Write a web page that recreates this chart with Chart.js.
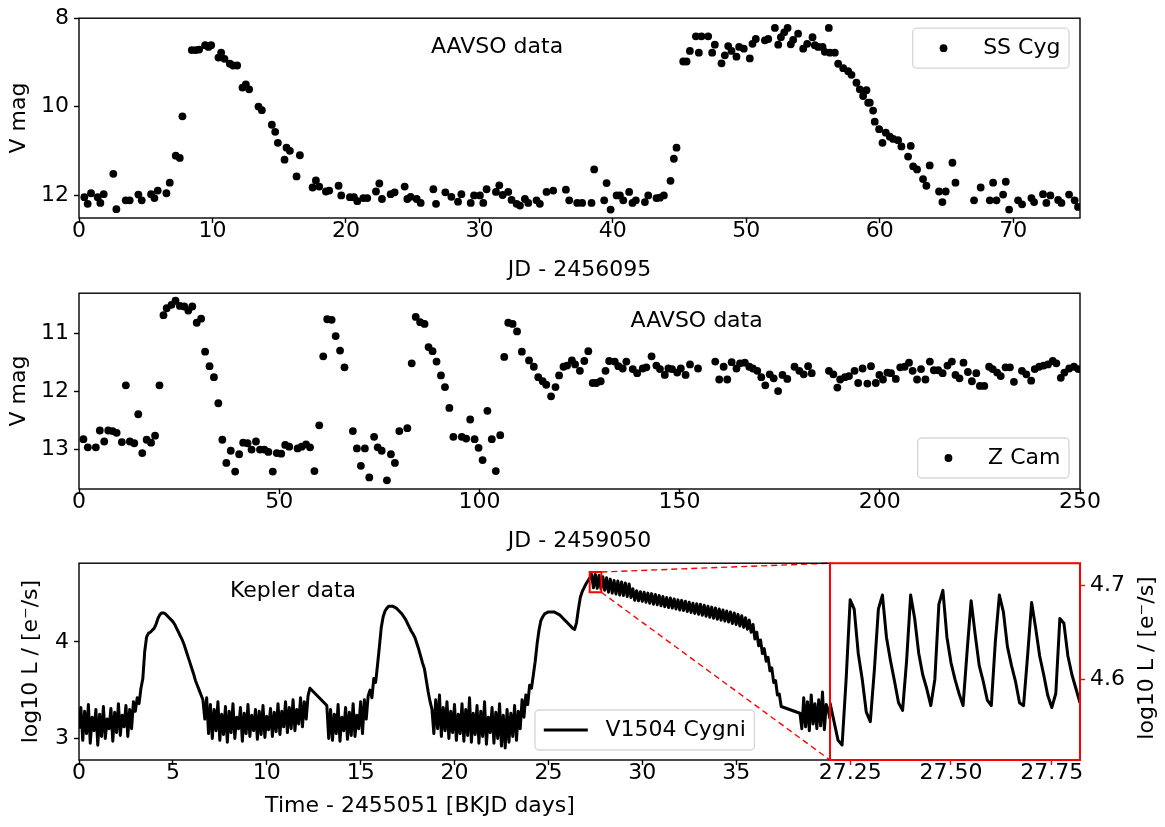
<!DOCTYPE html>
<html>
<head>
<meta charset="utf-8">
<script src="https://cdn.jsdelivr.net/npm/chart.js@4.4.1/dist/chart.umd.min.js"></script>
<style>
  body { margin: 0; background: #fff; }
  #wrap { position: relative; width: 1165px; height: 827px; }
  canvas { position: absolute; }
</style>
</head>
<body>
<div id="wrap">
  <canvas id="ssCyg" width="1165" height="285" style="left:0px;top:0px"></canvas>
  <canvas id="zCam" width="1165" height="280" style="left:0px;top:275px"></canvas>
  <canvas id="kepler" width="832" height="282" style="left:0px;top:545px"></canvas>
  <canvas id="keplerZoom" width="365" height="282" style="left:800px;top:545px"></canvas>
</div>
<script>
// ---- SS Cyg (AAVSO), JD - 2456095 ----
const ssCygDay = [
  0.4, 0.65, 0.9, 1.4, 1.6, 1.85, 2.57, 2.8, 3.5, 3.8,
  4.45, 4.7, 5.4, 5.65, 5.9, 6.55, 6.8, 7.25, 7.55, 7.75,
  8.45, 8.75, 9.0, 9.45, 9.7, 9.9, 10.45, 10.65, 10.9, 11.3,
  11.55, 11.85, 12.25, 12.5, 12.75, 13.45, 13.7, 14.45, 14.7, 14.9,
  15.4, 15.55, 15.8, 16.3, 16.55, 17.5, 17.75, 18.0, 18.5, 18.75,
  19.45, 19.65, 20.3, 20.6, 20.85, 21.3, 21.6, 22.25, 22.5, 22.7,
  23.35, 23.65, 24.4, 24.6, 24.85, 25.3, 25.6, 26.55, 26.75, 27.45,
  27.9, 28.4, 28.65, 29.35, 29.6, 30.04, 30.29, 30.54, 31.24, 31.49,
  31.74, 32.16, 32.41, 32.79, 33.04, 33.41, 33.66, 34.28, 34.53, 35.03,
  35.53, 36.48, 36.73, 37.33, 37.7, 38.4, 38.6, 39.35, 39.53, 39.83,
  40.28, 40.53, 40.78, 41.22, 41.47, 41.72, 42.4, 42.65, 43.27, 43.52,
  43.82, 44.32, 44.57, 44.77, 45.27, 45.52, 45.77, 46.22, 46.44, 46.64,
  47.14, 47.44, 47.64, 48.14, 48.39, 48.64, 48.89, 49.26, 49.46, 49.81,
  50.26, 50.46, 50.71, 51.39, 51.64, 52.14, 52.39, 52.59, 52.84, 53.09,
  53.33, 53.51, 53.88, 54.26, 54.56, 54.96, 55.13, 55.38, 55.71, 55.88,
  56.18, 56.26, 56.63, 56.88, 57.26, 57.63, 57.88, 58.25, 58.5, 58.75,
  59.0, 59.13, 59.25, 59.5, 59.62, 59.95, 60.2, 60.45, 60.75, 61.0,
  61.37, 61.62, 62.12, 62.32, 62.5, 62.79, 63.24, 63.49, 63.74, 64.44,
  64.69, 64.94, 65.44, 65.67, 67.06, 67.56, 68.24, 68.49, 68.74, 69.24,
  69.44, 69.69, 70.36, 70.66, 71.36, 71.56, 72.23, 72.48, 72.78, 73.36,
  73.61, 74.18, 74.6, 74.85
];
const ssCygMag = [
  12.05, 12.2, 11.96, 12.05, 12.18, 11.98, 11.52, 12.32, 12.12, 12.12,
  11.99, 12.12, 11.98, 12.07, 11.9, 11.96, 11.72, 11.11, 11.16, 10.22,
  8.72, 8.72, 8.71, 8.61, 8.65, 8.61, 8.89, 8.78, 8.92, 9.03,
  9.07, 9.07, 9.57, 9.5, 9.61, 10.0, 10.08, 10.41, 10.57, 10.82,
  11.2, 10.93, 11.0, 11.58, 11.1, 11.83, 11.67, 11.81, 11.92, 11.9,
  11.79, 12.01, 12.05, 12.05, 12.14, 12.07, 12.07, 11.92, 11.74, 12.09,
  11.98, 11.94, 11.81, 12.09, 12.04, 12.09, 12.18, 11.87, 12.2, 11.94,
  12.04, 12.15, 11.98, 12.18, 12.01, 12.01, 12.18, 11.87, 11.93, 11.78,
  12.0, 11.93, 12.11, 12.2, 12.24, 12.09, 12.18, 12.12, 12.2, 11.93,
  11.9, 11.88, 12.12, 12.18, 12.18, 12.18, 11.42, 12.12, 11.73, 12.33,
  12.01, 12.01, 12.12, 11.93, 12.18, 12.12, 12.16, 12.01, 12.07, 12.06,
  12.01, 11.68, 11.18, 10.93, 8.98, 8.98, 8.74, 8.41, 8.78, 8.41,
  8.41, 8.78, 8.6, 9.02, 8.84, 8.63, 8.74, 8.87, 8.65, 8.69,
  8.91, 8.58, 8.47, 8.5, 8.47, 8.22, 8.6, 8.43, 8.32, 8.22,
  8.59, 8.49, 8.35, 8.69, 8.58, 8.43, 8.61, 8.65, 8.65, 8.76,
  8.22, 8.78, 8.78, 9.03, 9.13, 9.2, 9.28, 9.46, 9.61, 9.76,
  9.63, 9.91, 9.91, 10.09, 10.34, 10.51, 10.82, 10.59, 10.68, 10.73,
  10.76, 10.9, 11.13, 10.89, 11.35, 11.42, 11.64, 11.79, 11.33, 11.92,
  12.16, 11.92, 11.27, 11.72, 12.12, 11.83, 12.12, 11.72, 12.12, 11.99,
  11.7, 12.33, 12.12, 12.21, 12.07, 12.16, 11.98, 12.18, 12.01, 12.11,
  12.18, 11.99, 12.12, 12.27
];
const ssCygTicksX = [0, 10, 20, 30, 40, 50, 60, 70];
const ssCygTicksY = [8, 10, 12];

// ---- Z Cam (AAVSO), JD - 2459050 ----
const zCamDay = [
  1.1, 2.2, 4.2, 5.2, 6.3, 7.3, 8.4, 9.4, 10.7, 11.7,
  12.7, 13.8, 14.8, 15.8, 16.9, 18.0, 19.0, 20.1, 21.1, 21.9,
  23.1, 24.1, 25.2, 26.3, 27.3, 28.3, 29.4, 30.5, 31.5, 32.6,
  33.7, 34.8, 35.8, 36.8, 37.9, 39.0, 40.0, 41.0, 42.1, 43.1,
  44.2, 45.2, 46.3, 47.3, 48.4, 49.4, 50.5, 51.5, 52.5, 54.6,
  55.6, 56.7, 57.7, 58.8, 60.0, 61.0, 62.0, 63.1, 64.1, 65.2,
  66.3, 68.4, 69.4, 70.4, 71.4, 72.5, 73.7, 74.6, 75.6, 76.9,
  77.9, 78.9, 80.0, 82.0, 83.1, 84.1, 85.2, 86.3, 87.3, 88.3,
  89.3, 90.4, 91.4, 92.5, 93.5, 95.6, 96.7, 97.7, 98.8, 99.8,
  100.8, 102.0, 103.1, 104.1, 105.2, 106.2, 107.2, 108.3, 109.4, 110.6,
  112.4, 113.6, 114.7, 115.8, 116.7, 117.9, 119.0, 119.9, 121.0, 121.9,
  123.1, 123.9, 125.1, 126.2, 127.2, 128.3, 129.2, 130.3, 131.5, 132.4,
  133.8, 134.7, 135.8, 136.7, 138.3, 139.4, 140.8, 141.7, 143.0, 144.2,
  145.1, 146.3, 147.2, 148.1, 149.4, 150.3, 151.5, 152.6, 154.6, 158.9,
  159.9, 161.0, 161.9, 163.0, 164.2, 165.1, 166.3, 167.4, 168.3, 169.4,
  170.4, 171.4, 172.5, 173.5, 174.6, 175.7, 176.9, 178.7, 179.9, 181.0,
  182.1, 183.0, 187.3, 188.4, 189.4, 190.1, 191.3, 192.3, 193.7, 194.6,
  195.7, 196.9, 197.8, 199.0, 199.9, 200.8, 201.9, 202.8, 204.0, 205.1,
  206.2, 207.3, 208.2, 209.3, 210.3, 211.4, 212.5, 213.5, 214.6, 215.7,
  216.9, 218.0, 218.9, 219.9, 220.9, 222.0, 223.0, 224.1, 225.0, 226.1,
  227.3, 228.2, 229.3, 230.2, 231.4, 232.5, 233.5, 235.5, 236.6, 237.8,
  238.7, 239.8, 240.9, 242.0, 243.2, 244.1, 245.2, 246.1, 247.3, 248.5,
  249.6
];
const zCamMag = [
  12.83, 12.97, 12.97, 12.68, 12.87, 12.68, 12.69, 12.72, 12.88, 11.9,
  12.87, 12.9, 12.4, 13.07, 12.84, 12.89, 12.77, 11.9, 10.69, 10.57,
  10.51, 10.44, 10.53, 10.54, 10.61, 10.54, 10.82, 10.75, 11.32, 11.57,
  11.76, 12.21, 12.84, 13.24, 13.03, 13.39, 13.09, 12.89, 12.9, 13.01,
  12.87, 13.01, 13.01, 13.05, 13.39, 13.07, 13.08, 12.93, 12.96, 12.99,
  12.96, 12.92, 12.97, 13.38, 12.59, 11.4, 10.76, 10.77, 11.05, 11.3,
  11.59, 12.69, 12.99, 13.29, 12.99, 13.49, 12.79, 12.97, 13.03, 13.54,
  13.09, 13.24, 12.69, 12.64, 11.52, 10.72, 10.81, 10.84, 11.24, 11.31,
  11.49, 11.73, 11.93, 12.29, 12.79, 12.79, 12.82, 12.49, 12.83, 12.98,
  13.19, 12.34, 12.83, 13.38, 12.76, 11.41, 10.82, 10.84, 10.97, 11.32,
  11.47, 11.58, 11.76, 11.83, 11.89, 12.09, 11.93, 11.73, 11.58, 11.56,
  11.47, 11.54, 11.65, 11.48, 11.31, 11.86, 11.86, 11.83, 11.65, 11.48,
  11.49, 11.57, 11.61, 11.49, 11.62, 11.69, 11.61, 11.59, 11.4, 11.56,
  11.62, 11.72, 11.61, 11.62, 11.68, 11.61, 11.72, 11.54, 11.61, 11.49,
  11.8, 11.58, 11.8, 11.5, 11.61, 11.52, 11.51, 11.58, 11.61, 11.65,
  11.76, 11.9, 11.71, 11.78, 12.0, 11.72, 11.79, 11.58, 11.65, 11.71,
  11.57, 11.69, 11.65, 11.71, 11.94, 11.8, 11.76, 11.74, 11.65, 11.86,
  11.61, 11.87, 11.57, 11.86, 11.72, 11.8, 11.68, 11.69, 11.79, 11.59,
  11.58, 11.51, 11.65, 11.8, 11.62, 11.8, 11.49, 11.64, 11.64, 11.69,
  11.56, 11.49, 11.72, 11.78, 11.51, 11.67, 11.83, 11.69, 11.91, 11.91,
  11.58, 11.62, 11.68, 11.74, 11.59, 11.59, 11.84, 11.65, 11.71, 11.82,
  11.62, 11.58, 11.56, 11.54, 11.48, 11.52, 11.77, 11.68, 11.61, 11.58,
  11.62
];
const zCamTicksX = [0, 50, 100, 150, 200, 250];
const zCamTicksY = [11, 12, 13];

// ---- V1504 Cyg (Kepler), log10 flux, one value every 0.1 d ----
const KEP_STEP = 0.1;
const kepQuiet1 = [ // from 0.0 d
  3.10, 3.32, 2.98, 3.28, 3.05, 3.35, 2.95, 3.22, 3.08, 3.30,
  2.93, 3.25, 3.02, 3.33, 3.00, 3.20, 3.10, 3.31, 2.97, 3.27,
  3.06, 3.36, 3.03, 3.24, 3.12, 3.34, 3.02, 3.30, 3.10, 3.38,
  3.28, 3.42, 3.36, 3.52, 3.62
];
const kepOutburst1 = [ // from 3.5 d
  3.90, 4.05, 4.09, 4.10, 4.12, 4.14, 4.18, 4.24, 4.28, 4.30,
  4.30, 4.29, 4.27, 4.25, 4.23, 4.21, 4.18, 4.14, 4.10, 4.06,
  4.02, 3.97, 3.91, 3.85, 3.79, 3.73, 3.67, 3.60, 3.55, 3.50,
  3.45, 3.40
];
const kepQuiet2 = [ // from 6.7 d
  3.20, 3.42, 3.05, 3.35, 3.00, 3.30, 3.08, 3.38, 2.98, 3.25,
  3.04, 3.33, 2.96, 3.28, 3.06, 3.36, 3.00, 3.22, 3.10, 3.32,
  2.97, 3.26, 3.05, 3.35, 3.02, 3.24, 3.08, 3.30, 2.99, 3.28,
  3.04, 3.34, 3.01, 3.23, 3.09, 3.31, 3.02, 3.27, 3.07, 3.36,
  3.04, 3.28, 3.12, 3.38, 3.06, 3.32, 3.10, 3.40, 3.08, 3.30,
  3.15, 3.42, 3.12, 3.38, 3.20, 3.44, 3.52
];
const kepQuiet3 = [ // from 13.2 d
  3.34, 3.00, 3.30, 2.98, 3.25, 3.05, 3.35, 2.97, 3.22, 3.08,
  3.32, 2.99, 3.27, 3.03, 3.36, 3.02, 3.24, 3.10, 3.38, 3.05,
  3.40, 3.20, 3.44
];
const kepOutburst2 = [ // from 15.5 d
  3.50, 3.42, 3.62, 3.58, 3.76, 3.95, 4.15, 4.26, 4.32, 4.35,
  4.37, 4.37, 4.37, 4.36, 4.35, 4.33, 4.31, 4.29, 4.26, 4.23,
  4.19, 4.15, 4.11, 4.08, 4.04, 3.98, 3.92, 3.85, 3.78, 3.72,
  3.60, 3.48, 3.38, 3.30
];
const kepQuiet4 = [ // from 18.9 d
  3.05, 3.40, 3.10, 3.45, 3.02, 3.32, 3.08, 3.38, 3.00, 3.28,
  3.06, 3.35, 2.98, 3.25, 3.05, 3.36, 2.97, 3.30, 3.03, 3.42,
  2.96, 3.26, 3.04, 3.34, 2.95, 3.28, 3.02, 3.38, 2.94, 3.22,
  3.06, 3.32, 2.95, 3.27, 3.00, 3.36, 2.92, 3.24, 2.90, 3.30,
  2.96, 3.26, 3.02, 3.34, 2.98, 3.28, 3.10
];
const kepRise3 = [ // from 23.6 d
  3.40, 3.22, 3.45, 3.35, 3.55, 3.52, 3.66, 3.80, 3.98, 4.12,
  4.22, 4.26, 4.29, 4.30, 4.31, 4.31, 4.31, 4.31, 4.30, 4.29,
  4.28, 4.26, 4.24, 4.22, 4.20, 4.18, 4.16, 4.14, 4.13, 4.20,
  4.34, 4.46, 4.52, 4.56, 4.60, 4.63, 4.66
];
const kepSuper = [ // from 27.3 d, superhump band (alternating highs and lows)
  4.70, 4.56, 4.70, 4.555, 4.69, 4.55, 4.675, 4.535, 4.665, 4.515,
  4.65, 4.505, 4.635, 4.495, 4.63, 4.485, 4.62, 4.48, 4.61, 4.47,
  4.60, 4.46,
  4.55, 4.43, 4.53, 4.425, 4.52, 4.42, 4.515, 4.41, 4.505, 4.40,
  4.50, 4.39, 4.49, 4.385, 4.48, 4.375, 4.47, 4.365, 4.46, 4.355,
  4.455, 4.35, 4.445, 4.34, 4.435, 4.33, 4.43, 4.325, 4.42, 4.315,
  4.41, 4.305, 4.40, 4.295, 4.395, 4.285,
  4.39, 4.275, 4.38, 4.265, 4.37, 4.255, 4.36, 4.245, 4.35, 4.235,
  4.34, 4.225, 4.33, 4.215, 4.32, 4.205, 4.31, 4.19, 4.30, 4.18,
  4.285, 4.165, 4.27, 4.15, 4.25, 4.13, 4.225, 4.10,
  4.18, 4.03, 4.10, 3.96, 4.02, 3.88, 3.93, 3.80, 3.84, 3.70,
  3.73, 3.58, 3.60, 3.45, 3.46, 3.33
];
const kepQuiet5 = [ // from 38.4 d
  3.26, 3.10, 3.42, 3.12, 3.38, 3.08, 3.45, 3.15, 3.36, 3.10,
  3.40, 3.13, 3.48, 3.09, 3.35, 3.30, 3.20
];
const kepSegments = [
  [0.0, kepQuiet1], [3.5, kepOutburst1], [6.7, kepQuiet2], [13.2, kepQuiet3],
  [15.5, kepOutburst2], [18.9, kepQuiet4], [23.6, kepRise3], [27.3, kepSuper], [38.4, kepQuiet5]
];
const kepTicksX = [0, 5, 10, 15, 20, 25, 30, 35];
const kepTicksY = [3, 4];

// ---- zoom on the superoutburst, one value every 0.01 d from 27.20 d ----
const ZOOM_START = 27.2, ZOOM_STEP = 0.01;
const zoomFlux = [
  4.575, 4.555, 4.535, 4.53, 4.60, 4.685, 4.675, 4.628, 4.60, 4.565,
  4.555, 4.61, 4.675, 4.69, 4.645, 4.62, 4.598, 4.575, 4.567, 4.62,
  4.69, 4.665, 4.628, 4.605, 4.59, 4.572, 4.60, 4.68, 4.695, 4.645,
  4.618, 4.60, 4.585, 4.572, 4.63, 4.684, 4.648, 4.615, 4.598, 4.578,
  4.572, 4.64, 4.69, 4.672, 4.635, 4.615, 4.598, 4.575, 4.572, 4.625,
  4.682, 4.655, 4.625, 4.605, 4.583, 4.57, 4.585, 4.665, 4.66, 4.625,
  4.605, 4.59, 4.575
];
const zoomDays = [27.2, 27.82];
const zoomFluxRange = [4.514, 4.724];
const zoomTicksX = [27.25, 27.5, 27.75];
const zoomTicksY = [4.6, 4.7];

const FONT = "'DejaVu Sans', sans-serif";
Chart.defaults.font.family = FONT;
Chart.defaults.font.size = 22;
Chart.defaults.color = '#000';

function xAxis(o) {
  return {
    type: 'linear', position: 'bottom', min: o.min, max: o.max,
    afterBuildTicks: s => { s.ticks = o.ticks.map(v => ({ value: v })); },
    afterFit: s => { s.height = o.height; },
    ticks: { autoSkip: false, maxRotation: 0, padding: -3, color: '#000',
             font: { size: 22, lineHeight: 1 }, callback: o.fmt || (v => String(v)) },
    grid: { drawOnChartArea: false, tickLength: 5, tickWidth: 1.4, tickColor: o.tickColor || '#000' },
    border: { display: false },
    title: o.title ? { display: true, text: o.title, color: '#000', font: { size: 22 },
                       padding: { top: 0, bottom: o.titlePad } } : { display: false }
  };
}
function yAxis(o) {
  return {
    type: 'linear', position: o.position || 'left', reverse: !!o.reverse, min: o.min, max: o.max,
    afterBuildTicks: s => { s.ticks = o.ticks.map(v => ({ value: v })); },
    afterFit: s => { s.width = o.width; },
    ticks: { autoSkip: false, padding: 5, color: '#000', font: { size: 22 }, callback: o.fmt || (v => String(v)) },
    grid: { drawOnChartArea: false, tickLength: 5, tickWidth: 1.4, tickColor: o.tickColor || '#000' },
    border: { display: false },
    title: o.title ? { display: true, text: o.title, color: '#000', font: { size: 22 },
                       padding: { top: o.titlePad, bottom: 0 } } : { display: false }
  };
}

// box around the plot area
function frame(color, width) {
  return {
    id: 'frame',
    afterDraw(chart) {
      const { ctx, chartArea: a } = chart;
      ctx.save();
      ctx.strokeStyle = color;
      ctx.lineWidth = width;
      ctx.strokeRect(a.left, a.top, a.right - a.left, a.bottom - a.top);
      ctx.restore();
    }
  };
}

// free text: fx/fy are fractions of the plot area, x/y canvas pixels
function notes(items) {
  return {
    id: 'notes',
    afterDraw(chart) {
      const { ctx, chartArea: a } = chart;
      ctx.save();
      ctx.font = '22px ' + FONT;
      ctx.fillStyle = '#000';
      ctx.textAlign = 'center';
      ctx.textBaseline = 'middle';
      items.forEach(it => {
        const x = it.fx != null ? a.left + it.fx * (a.right - a.left) : it.x;
        const y = it.fy != null ? a.top + it.fy * (a.bottom - a.top) : it.y;
        ctx.save();
        ctx.translate(x, y);
        if (it.rot) ctx.rotate(it.rot);
        ctx.fillText(it.text, 0, 0);
        ctx.restore();
      });
      ctx.restore();
    }
  };
}

// matplotlib-like legend box
function boxLegend(place) {
  return {
    id: 'boxLegend',
    afterDraw(chart) {
      const ds = chart.data.datasets[0];
      const { ctx, chartArea: a } = chart;
      ctx.save();
      ctx.font = '22px ' + FONT;
      const tw = ctx.measureText(ds.label).width;
      const w = 79 + tw, h = 40;
      const x0 = place.right != null ? a.right - place.right - w : a.left + place.left;
      const y0 = place.top != null ? a.top + place.top : a.bottom - place.bottom - h;
      ctx.beginPath();
      ctx.roundRect(x0, y0, w, h, 4);
      ctx.fillStyle = 'rgba(255,255,255,0.8)';
      ctx.fill();
      ctx.strokeStyle = '#d6d6d6';
      ctx.lineWidth = 1.3;
      ctx.stroke();
      const cy = y0 + h / 2, hx = x0 + 8.8;
      if (ds.showLine === false) {
        ctx.beginPath();
        ctx.arc(hx + 22, cy, ds.pointRadius, 0, Math.PI * 2);
        ctx.fillStyle = ds.backgroundColor;
        ctx.fill();
      } else {
        ctx.beginPath();
        ctx.moveTo(hx, cy);
        ctx.lineTo(hx + 44, cy);
        ctx.strokeStyle = ds.borderColor;
        ctx.lineWidth = ds.borderWidth;
        ctx.stroke();
      }
      ctx.fillStyle = '#000';
      ctx.textBaseline = 'middle';
      ctx.fillText(ds.label, hx + 44 + 17.6, cy);
      ctx.restore();
    }
  };
}

// red rectangle on the zoomed interval + dashed connectors to the inset
const zoomMark = {
  id: 'zoomMark',
  afterDatasetsDraw(chart) {
    const { ctx, chartArea: a, scales: { x, y } } = chart;
    const x0 = x.getPixelForValue(zoomDays[0]), x1 = x.getPixelForValue(zoomDays[1]);
    const y0 = y.getPixelForValue(zoomFluxRange[1]), y1 = y.getPixelForValue(zoomFluxRange[0]);
    ctx.save();
    ctx.strokeStyle = '#ff0000';
    ctx.lineWidth = 2;
    ctx.strokeRect(x0, y0, x1 - x0, y1 - y0);
    ctx.lineWidth = 1.4;
    ctx.setLineDash([6, 4]);
    ctx.beginPath();
    ctx.moveTo(x1, y0); ctx.lineTo(a.right, a.top);
    ctx.moveTo(x1, y1); ctx.lineTo(a.right, a.bottom);
    ctx.stroke();
    ctx.restore();
  }
};

const base = {
  responsive: false, maintainAspectRatio: false, animation: false, devicePixelRatio: 1, events: []
};
const hidden = { legend: { display: false }, tooltip: { enabled: false } };

function scatterSet(label, days, mags) {
  return {
    label: label,
    data: days.map((d, i) => ({ x: d, y: mags[i] })),
    showLine: false, pointRadius: 3.9, pointBorderWidth: 0,
    backgroundColor: '#000', borderColor: '#000'
  };
}

new Chart(document.getElementById('ssCyg'), {
  type: 'scatter',
  data: { datasets: [scatterSet('SS Cyg', ssCygDay, ssCygMag)] },
  options: Object.assign({}, base, {
    layout: { padding: { top: 15, right: 85, bottom: 0, left: 0 } },
    plugins: hidden,
    scales: {
      x: xAxis({ min: 0, max: 75, ticks: ssCygTicksX, height: 67, title: 'JD - 2456095', titlePad: 2 }),
      y: yAxis({ min: 8, max: 12.52, reverse: true, ticks: ssCygTicksY, width: 79, title: 'V mag', titlePad: 6.5 })
    }
  }),
  plugins: [frame('#000', 1.4), notes([{ text: 'AAVSO data', fx: 0.4176, fy: 0.148 }]),
            boxLegend({ right: 11, top: 10 })]
});

new Chart(document.getElementById('zCam'), {
  type: 'scatter',
  data: { datasets: [scatterSet('Z Cam', zCamDay, zCamMag)] },
  options: Object.assign({}, base, {
    layout: { padding: { top: 12, right: 85, bottom: 0, left: 0 } },
    plugins: hidden,
    scales: {
      x: xAxis({ min: 0, max: 250, ticks: zCamTicksX, height: 66, title: 'JD - 2459050', titlePad: 1 }),
      y: yAxis({ min: 10.31, max: 13.69, reverse: true, ticks: zCamTicksY, width: 79, title: 'V mag', titlePad: 6.5 })
    }
  }),
  plugins: [frame('#000', 1.4), notes([{ text: 'AAVSO data', fx: 0.617, fy: 0.144 }]),
            boxLegend({ right: 11, bottom: 11 })]
});

const kepPoints = [];
kepSegments.forEach(([t0, vals]) => {
  vals.forEach((v, i) => kepPoints.push({ x: +(t0 + i * KEP_STEP).toFixed(2), y: v }));
});

new Chart(document.getElementById('kepler'), {
  type: 'line',
  data: { datasets: [{
    label: 'V1504 Cygni', data: kepPoints, borderColor: '#000', borderWidth: 3,
    pointRadius: 0, tension: 0, borderJoinStyle: 'round', fill: false
  }] },
  options: Object.assign({}, base, {
    layout: { padding: { top: 12, right: 2, bottom: 0, left: 0 } },
    plugins: hidden,
    scales: {
      x: xAxis({ min: 0, max: 40, ticks: kepTicksX, height: 67 }),
      y: yAxis({ min: 2.776, max: 4.815, ticks: kepTicksY, width: 79, title: 'log10 L / [e\u207B/s]', titlePad: 17.8 })
    }
  }),
  plugins: [zoomMark, frame('#000', 1.4),
            notes([{ text: 'Kepler data', fx: 0.285, fy: 0.143 },
                   { text: 'Time - 2455051 [BKJD days]', x: 420, y: 261 }]),
            boxLegend({ left: 456, bottom: 10 })]
});

new Chart(document.getElementById('keplerZoom'), {
  type: 'line',
  data: { datasets: [{
    label: 'V1504 Cygni', data: zoomFlux.map((v, i) => ({ x: +(ZOOM_START + i * ZOOM_STEP).toFixed(2), y: v })),
    borderColor: '#000', borderWidth: 3, pointRadius: 0, tension: 0, borderJoinStyle: 'round', fill: false
  }] },
  options: Object.assign({}, base, {
    layout: { padding: { top: 12, right: 0, bottom: 0, left: 30 } },
    plugins: hidden,
    scales: {
      x: xAxis({ min: zoomDays[0], max: zoomDays[1], ticks: zoomTicksX, height: 67,
                 tickColor: '#ff0000', fmt: v => v.toFixed(2) }),
      y: yAxis({ position: 'right', min: zoomFluxRange[0], max: zoomFluxRange[1], ticks: zoomTicksY,
                 width: 85, tickColor: '#ff0000', fmt: v => v.toFixed(1) })
    }
  }),
  plugins: [frame('#ff0000', 2),
            notes([{ text: 'log10 L / [e\u207B/s]', x: 347, y: 113, rot: -Math.PI / 2 }])]
});
</script>
</body>
</html>
